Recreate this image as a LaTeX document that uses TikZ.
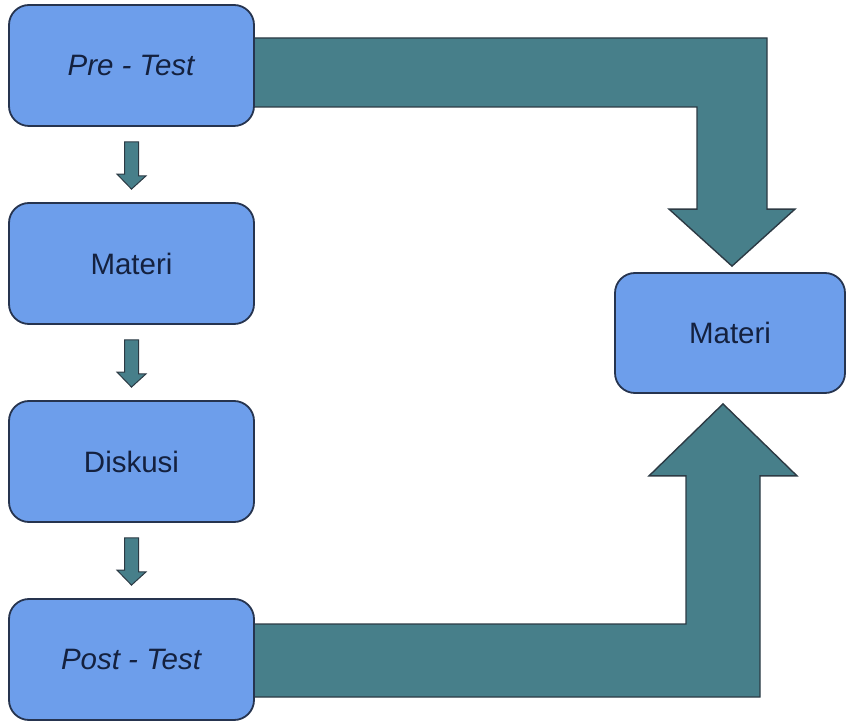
\documentclass[tikz,border=0pt]{standalone}
\usepackage{fontspec}
\setmainfont{Liberation Sans}
\usepackage{tikz}
\usetikzlibrary{calc, backgrounds}
\definecolor{boxBlue}{HTML}{6D9EEB}
\definecolor{boxLine}{HTML}{26344F}
\definecolor{arrowTeal}{HTML}{477F8A}
\definecolor{arrowLine}{HTML}{2C3A44}
\definecolor{textNavy}{HTML}{14213F}
\tikzstyle{roundBox} = [
                rectangle,
                rounded corners=20pt,
                minimum width=245pt,
                minimum height=121pt,
                text centered,
                draw=boxLine,
                line width=1.8pt,
                fill=boxBlue,
                text=textNavy,
                font=\fontsize{29.5}{35}\selectfont
            ]
\tikzstyle{bigArrow} = [draw=arrowLine, line width=1.4pt, fill=arrowTeal, line join=miter]
\tikzstyle{smallArrow} = [draw=arrowLine, line width=1pt, fill=arrowTeal, line join=miter]

\begin{document}
\begin{tikzpicture}[x=1pt, y=1pt, node distance=198pt]
                            \useasboundingbox (0,0) rectangle (846,721);
                            \node (1) [roundBox] at (131.5,655.5) {\textit{Pre - Test}};
                            \node (2) [roundBox, below of = 1] {Materi};
                            \node (3) [roundBox, below of = 2] {Diskusi};
                            \node (4) [roundBox, below of = 3] {\textit{Post - Test}};
                            \node (5) [roundBox, minimum width=230pt, minimum height=120pt] at (730,388) {Materi};
                            % small arrows down the left column
                            \foreach \a/\b in {1/2, 2/3, 3/4}
                                \draw [smallArrow] ([xshift=-7pt, yshift=-15pt]\a.south) -- ++(14,0) -- ++(0,-34) -- ++(7.5,0)
                                    -- ([yshift=13pt]\b.north) -- ++(-14.5,15) -- ++(7.5,0) -- cycle;
                            % big arrows into the right box
                            \begin{pgfonlayer}{background}
                                \coordinate (t1) at ([xshift=2pt, yshift=6pt]5.north);
                                \coordinate (t2) at ([xshift=-7pt, yshift=-10pt]5.south);
                                \draw [bigArrow] ([xshift=-5pt, yshift=27.5pt]1.east) -| ($(t1)+(35,57)$) -- ++(28,0) -- (t1)
                                    -- ($(t1)+(-63,57)$) -- ++(28,0) |- ([xshift=-5pt, yshift=-41.5pt]1.east) -- cycle;
                                \draw [bigArrow] ([xshift=-5pt, yshift=-37.5pt]4.east) -| ($(t2)+(37,-72)$) -- ++(37,0) -- (t2)
                                    -- ($(t2)+(-74,-72)$) -- ++(37,0) |- ([xshift=-5pt, yshift=35.5pt]4.east) -- cycle;
                            \end{pgfonlayer}
                        \end{tikzpicture}
\end{document}
